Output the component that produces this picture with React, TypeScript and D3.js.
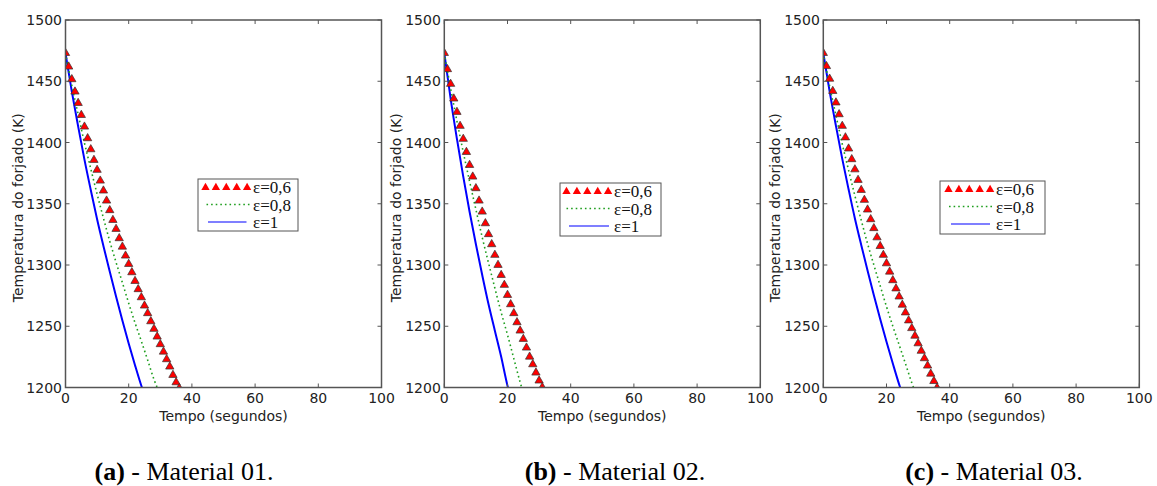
import React from "react";
import * as d3 from "d3";

// temperatura (K), triângulos a cada 1 s
const redA = [1473, 1461.9, 1451.6, 1441.5, 1432.2, 1422.4, 1412.9, 1403.4, 1394.4, 1385.7, 1377.6, 1368.8, 1360.7, 1352.5, 1344.7, 1336.7, 1329.4, 1321.8, 1314.9, 1307.6, 1300.8, 1294.0, 1286.9, 1280.2, 1273.6, 1266.8, 1260.6, 1254.0, 1247.8, 1241.5, 1235.3, 1229.2, 1223.0, 1217.0, 1210.2, 1204.2, 1199.5];
const redB = [1473, 1459.8, 1447.8, 1435.8, 1424.9, 1413.5, 1402.9, 1392.2, 1381.6, 1372.1, 1362.6, 1352.5, 1343.5, 1334.0, 1325.1, 1316.9, 1308.2, 1300.0, 1291.8, 1283.7, 1275.5, 1267.9, 1260.6, 1253.2, 1246.4, 1239.6, 1232.5, 1225.1, 1218.9, 1212.1, 1205.6, 1200.2];
const redC = [1473, 1462.3, 1452.0, 1442.0, 1432.6, 1423.0, 1413.5, 1404.1, 1395.0, 1386.3, 1378.0, 1369.4, 1361.2, 1353.1, 1345.2, 1337.3, 1330.0, 1322.5, 1315.4, 1308.2, 1301.3, 1294.5, 1287.5, 1280.8, 1274.2, 1267.5, 1261.2, 1254.7, 1248.4, 1242.2, 1236.0, 1229.9, 1223.8, 1217.8, 1211.2, 1205.2, 1199.8];

// curvas contínuas, lidas a cada 2 s
const greenA = [1473, 1446.5, 1423, 1399.7, 1378.6, 1357.9, 1338.3, 1319.5, 1302.2, 1285.6, 1268.8, 1252.8, 1237.8, 1222.4, 1206.6, 1194];
const blueA = [1473, 1441.6, 1413.2, 1386, 1361.2, 1337.3, 1315.5, 1294.7, 1274.3, 1254.7, 1236, 1218.2, 1201.4, 1187];
const greenB = [1473, 1444.2, 1417.5, 1392.2, 1368.3, 1345.3, 1322.6, 1301.6, 1281.2, 1261.3, 1243, 1223.6, 1204.3, 1187];
const blueB = [1473, 1435.8, 1402.9, 1372.1, 1343.5, 1316.9, 1291.8, 1267.9, 1246.4, 1225.1, 1201.5, 1185];
const greenC = [1473, 1446.0, 1422.2, 1398.8, 1377.4, 1356.5, 1336.6, 1317.5, 1300.0, 1283.0, 1266.0, 1250.0, 1234.8, 1219.5, 1203.8, 1191];
const blueC = [1473, 1441.8, 1413.6, 1386.6, 1361.8, 1338.0, 1316.4, 1295.6, 1275.4, 1256.0, 1237.4, 1219.6, 1202.6, 1188];

const xTicks = [0, 20, 40, 60, 80, 100];
const yTicks = [1200, 1250, 1300, 1350, 1400, 1450, 1500];
const legendLabels = ["ε=0,6", "ε=0,8", "ε=1"];
const captions = [
  ["(a)", " - Material 01."],
  ["(b)", " - Material 02."],
  ["(c)", " - Material 03."],
];

const panels = [
  { id: "a", left: 65.5, red: redA, green: greenA, blue: blueA, legend: { x: 198, y: 179, w: 100, h: 52, tri: 201, dot: [206.5, 251.5], line: [208, 246.5], text: 253 }, caption: 184 },
  { id: "b", left: 444.3, red: redB, green: greenB, blue: blueB, legend: { x: 560, y: 183, w: 101, h: 53, tri: 562, dot: [566.5, 611.5], line: [569, 609], text: 614 }, caption: 615 },
  { id: "c", left: 823.3, red: redC, green: greenC, blue: blueC, legend: { x: 940, y: 181, w: 105, h: 53, tri: 944, dot: [949, 994], line: [951, 990], text: 996 }, caption: 994 },
];

const W = 316;
const top = 20;
const bottom = 387.5;
const frame = "#555";
const sans = "DejaVu Sans, sans-serif";
const serif = "Liberation Serif, Times New Roman, serif";

function Panel({ p }) {
  const x = d3.scaleLinear().domain([0, 100]).range([p.left, p.left + W]);
  const y = d3.scaleLinear().domain([1200, 1500]).range([bottom, top]);
  const line = d3
    .line()
    .x((d) => x(d[0]))
    .y((d) => y(d[1]))
    .curve(d3.curveMonotoneX);
  const tri = d3.symbol().type(d3.symbolTriangle).size(30)();
  const clipId = "clip-" + p.id;
  const lg = p.legend;
  const rowY = [lg.y + 8, lg.y + 25.5, lg.y + 43];

  return (
    <g>
      <defs>
        <clipPath id={clipId}>
          <rect x={x(0)} y={top} width={W} height={bottom - top} />
        </clipPath>
      </defs>
      <g clipPath={`url(#${clipId})`}>
        <path
          d={line(p.blue.map((v, i) => [i * 2, v]))}
          fill="none"
          stroke="#0000ff"
          strokeWidth={2}
        />
        <path
          d={line(p.green.map((v, i) => [i * 2, v]))}
          fill="none"
          stroke="#1e9e1e"
          strokeWidth={1.6}
          strokeDasharray="1.6,3"
        />
        {p.red.map((v, i) => (
          <path
            key={i}
            d={tri}
            transform={`translate(${x(i)},${y(v)})`}
            fill="#ff0000"
            stroke="#333"
            strokeWidth={0.7}
          />
        ))}
      </g>

      {/* moldura e ticks para dentro nos quatro lados */}
      <rect x={x(0)} y={top} width={W} height={bottom - top} fill="none" stroke={frame} strokeWidth={1.5} />
      {xTicks.map((t) => (
        <g key={"x" + t}>
          <line x1={x(t)} x2={x(t)} y1={bottom} y2={bottom - 4} stroke={frame} />
          <line x1={x(t)} x2={x(t)} y1={top} y2={top + 4} stroke={frame} />
          <text x={x(t)} y={403} textAnchor="middle" fontFamily={sans} fontSize={14} fill="#222">
            {t}
          </text>
        </g>
      ))}
      {yTicks.map((t) => (
        <g key={"y" + t}>
          <line x1={x(0)} x2={x(0) + 4} y1={y(t)} y2={y(t)} stroke={frame} />
          <line x1={x(100)} x2={x(100) - 4} y1={y(t)} y2={y(t)} stroke={frame} />
          <text x={x(0) - 3.5} y={y(t) + 5} textAnchor="end" fontFamily={sans} fontSize={14} fill="#222">
            {t}
          </text>
        </g>
      ))}
      <text x={x(50)} y={421} textAnchor="middle" fontFamily={sans} fontSize={14} fill="#222">
        Tempo (segundos)
      </text>
      <text
        transform={`translate(${p.left - 43},${(top + bottom) / 2 + 4}) rotate(-90)`}
        textAnchor="middle"
        fontFamily={sans}
        fontSize={14}
        fill="#222"
      >
        Temperatura do forjado (K)
      </text>

      {/* legenda */}
      <rect x={lg.x} y={lg.y} width={lg.w} height={lg.h} fill="#fff" stroke={frame} strokeWidth={1} />
      {[0, 1, 2, 3, 4].map((k) => (
        <path key={k} d={tri} transform={`translate(${lg.tri + 4.5 + k * 10.4},${rowY[0] + 0.5})`} fill="#ff0000" />
      ))}
      <line x1={lg.dot[0]} x2={lg.dot[1]} y1={rowY[1]} y2={rowY[1]} stroke="#1e9e1e" strokeWidth={1.6} strokeDasharray="1.6,3" />
      <line x1={lg.line[0]} x2={lg.line[1]} y1={rowY[2]} y2={rowY[2]} stroke="#0000ff" strokeWidth={1.2} />
      {legendLabels.map((l, i) => (
        <text key={l} x={lg.text} y={rowY[i] + 6} fontFamily={serif} fontSize={17} fill="#111">
          {l}
        </text>
      ))}
    </g>
  );
}

export default function App() {
  return (
    <svg
      width={1157}
      height={486}
      style={{ position: "absolute", left: 0, top: 0, background: "#fff" }}
    >
      {panels.map((p) => (
        <Panel key={p.id} p={p} />
      ))}
      {panels.map((p, i) => (
        <text key={"cap" + p.id} x={p.caption} y={480} textAnchor="middle" fontFamily={serif} fontSize={26} fill="#000">
          <tspan fontWeight="bold">{captions[i][0]}</tspan>
          <tspan>{captions[i][1]}</tspan>
        </text>
      ))}
    </svg>
  );
}
